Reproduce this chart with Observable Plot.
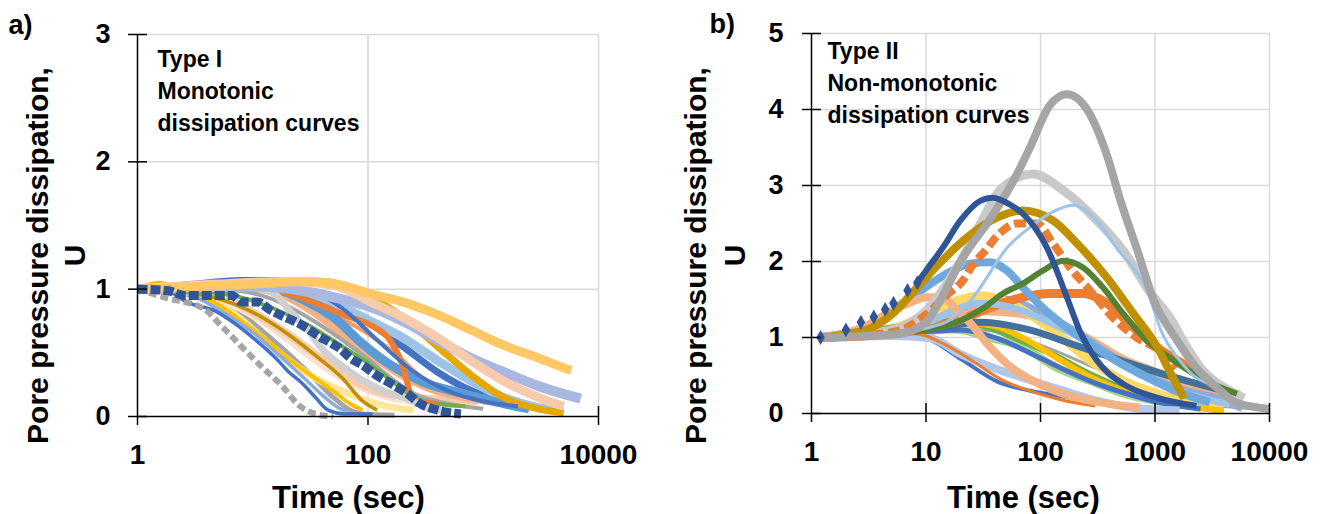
<!DOCTYPE html>
<html><head><meta charset="utf-8">
<script src="https://cdn.jsdelivr.net/npm/d3@7"></script>
<script src="https://cdn.jsdelivr.net/npm/@observablehq/plot@0.6"></script>
<style>
html,body{margin:0;padding:0;background:#fff;}
#wrap{position:relative;width:1322px;height:514px;overflow:hidden;background:#fff;}
#pa{position:absolute;left:0;top:0;}
#pb{position:absolute;left:660px;top:0;}
</style></head>
<body><div id="wrap"><div id="pa"></div><div id="pb"></div></div>
<script>
// ---------- tick values and texts ----------
const xTicksA = [1, 100, 10000];
const yTicksA = [0, 1, 2, 3];
const xTicksB = [1, 10, 100, 1000, 10000];
const yTicksB = [0, 1, 2, 3, 4, 5];
const xTitle = "Time (sec)";
const yTitle1 = "Pore pressure dissipation,";
const yTitle2 = "U";
const annoA = ["Type I", "Monotonic", "dissipation curves"];
const annoB = ["Type II", "Non-monotonic", "dissipation curves"];

// ---------- panel a) Type I series: [time (s), U] ----------
const a_grayLow = [[1,1],[3,0.95],[8,0.8],[15,0.6],[30,0.35],[50,0.15],[70,0.05],[90,0.02],[170,0.01]];
const a_lightPeach = [[1,1],[3,0.98],[8,0.85],[15,0.7],[25,0.55],[45,0.38],[80,0.25],[150,0.16],[300,0.12],[600,0.1]];
const a_paleYellow = [[1,1],[2,1.02],[4,0.93],[7,0.8],[12,0.62],[20,0.45],[35,0.3],[60,0.2],[100,0.12],[170,0.07],[250,0.05]];
const a_goldPlus = [[1,1],[1.5,1.05],[3,0.97],[5,0.88],[8,0.75],[14,0.58],[22,0.43],[35,0.3],[50,0.2],[70,0.1],[90,0.05]];
const a_paleBlueX = [[1,1],[2,1.0],[3.5,0.92],[6,0.8],[10,0.66],[17,0.48],[28,0.3],[40,0.17],[55,0.07],[70,0.03]];
const a_blueX = [[1,1],[1.5,1.02],[2.8,0.89],[4.7,0.83],[7,0.73],[10,0.62],[16.6,0.44],[20,0.36],[27,0.26],[35,0.15],[45,0.05],[63,0.02],[110,0.02]];
const a_grayDots = [[1,1],[1.8,0.93],[3.7,0.85],[5.5,0.7],[8.6,0.52],[12,0.39],[18,0.24],[25,0.09],[35,0.02],[50,0]];
const a_peach = [[1,1],[3,1.0],[6,0.93],[10,0.82],[20,0.65],[40,0.45],[70,0.3],[120,0.2],[250,0.15],[500,0.13],[900,0.12]];
const a_darkGold = [[1,1],[3,0.97],[7,0.88],[12,0.78],[20,0.65],[35,0.48],[60,0.3],[90,0.12],[120,0.05]];
const a_salmon = [[1,1],[5,1.03],[15,0.98],[30,0.85],[60,0.65],[100,0.5],[200,0.32],[400,0.2],[700,0.15],[1100,0.12]];
const a_orange2 = [[1,1],[10,1.0],[25,0.93],[50,0.8],[100,0.65],[180,0.48],[300,0.3],[500,0.2],[900,0.13]];
const a_blue = [[1,1],[10,1.03],[30,0.95],[60,0.85],[100,0.74],[200,0.55],[400,0.35],[800,0.2],[1500,0.12],[3000,0.07]];
const a_lightBlue = [[1,1],[10,1.02],[30,0.97],[60,0.86],[105,0.75],[200,0.62],[400,0.44],[780,0.28],[1500,0.15],[3000,0.07],[4000,0.05]];
const a_skyBlue = [[1,1],[10,1.02],[16,1.0],[30,0.9],[50,0.78],[90,0.57],[160,0.4],[300,0.27],[670,0.18],[1200,0.12],[2500,0.06]];
const a_gray = [[1,1],[5,1.0],[15,0.92],[30,0.78],[60,0.6],[100,0.45],[160,0.3],[250,0.18],[500,0.1],[1000,0.06]];
const a_green = [[1,1],[5,0.97],[15,0.85],[30,0.72],[60,0.55],[100,0.42],[160,0.28],[250,0.15],[400,0.1],[700,0.08]];
const a_orange = [[1,1],[10,1.02],[20,0.97],[40,0.87],[70,0.78],[105,0.72],[160,0.58],[200,0.4],[230,0.2],[260,0.12],[400,0.1]];
const a_gold = [[1,1],[10,1.05],[40,1.06],[100,0.95],[200,0.78],[400,0.55],[800,0.32],[1500,0.15],[3000,0.06],[5000,0.03]];
const a_blueTriangles = [[1,1],[3,1.05],[8,1.08],[16,1.08],[30,1.0],[60,0.85],[120,0.6],[250,0.35],[500,0.2],[1000,0.12],[2000,0.08]];
const a_lightGray = [[1,1],[5,1.03],[9,1.02],[15,0.97],[21,0.83],[30,0.68],[41,0.52],[61,0.39],[91,0.28],[136,0.2],[220,0.14],[300,0.08],[450,0.05]];
const a_periwinkle = [[1,1],[10,1.02],[30,0.98],[60,0.92],[105,0.86],[200,0.75],[400,0.6],[780,0.46],[1500,0.35],[3000,0.24],[7000,0.14]];
const a_pink = [[1,1],[5,1.04],[20,1.06],[50,1.03],[105,0.9],[200,0.78],[400,0.62],[780,0.44],[1500,0.28],[3000,0.15],[5000,0.08]];
const a_yellowTop = [[1,1],[10,1.04],[30,1.06],[60,1.03],[100,0.97],[200,0.9],[400,0.8],[780,0.68],[1500,0.56],[3000,0.46],[5800,0.36]];
const a_navyDiamonds = [[1,1],[1.8,0.99],[2.6,0.95],[6.6,0.95],[8,0.9],[11,0.9],[14,0.84],[18,0.79],[24,0.74],[30,0.69],[36,0.64],[47,0.58],[58,0.53],[70,0.46],[91,0.4],[120,0.32],[157,0.26],[220,0.18],[285,0.1],[400,0.05],[640,0.02]];

// ---------- panel b) Type II series: [time (s), U] ----------
const b_grayThin = [[1.2,1],[10,1.05],[30,1.1],[100,0.9],[300,0.6],[1000,0.3],[3000,0.12],[10000,0.05]];
const b_salmon2 = [[1.2,1],[5,1.1],[10,1.2],[28,1.36],[70,1.32],[139,1.18],[270,0.96],[530,0.7],[1040,0.53],[2000,0.34],[3900,0.21],[5200,0.13]];
const b_periwinkle = [[1.2,1],[5,1.1],[10,1.25],[20,1.4],[35,1.5],[51,1.49],[99,1.32],[190,1.09],[380,0.79],[740,0.53],[1440,0.34],[3900,0.17],[5800,0.08]];
const b_yellow = [[1.2,1],[3,1.05],[6,1.15],[10,1.3],[20,1.5],[30,1.55],[45,1.5],[70,1.36],[139,1.05],[270,0.7],[530,0.43],[1040,0.26],[2300,0.13],[3900,0.04]];
const b_greenLight = [[1.2,1],[5,1.08],[10,1.12],[20,1.1],[35,1.0],[70,0.87],[139,0.6],[270,0.43],[530,0.26],[1440,0.13],[3000,0.08]];
const b_green = [[1.2,1],[10,1.18],[20,1.22],[40,1.1],[70,0.95],[139,0.75],[270,0.52],[530,0.33],[1040,0.2],[2000,0.1]];
const b_gold2 = [[1.2,1],[10,1.1],[20,1.2],[40,1.15],[80,0.95],[150,0.7],[300,0.45],[600,0.27],[1200,0.15],[2500,0.07],[4000,0.04]];
const b_blue = [[1.2,1],[10,1.08],[20,1.1],[40,1.0],[80,0.8],[150,0.6],[300,0.4],[600,0.25],[1200,0.13],[2500,0.06]];
const b_blueLow = [[1.2,1],[5,1.03],[9.5,1.0],[20,0.72],[42,0.42],[81,0.3],[160,0.22],[310,0.15],[600,0.08],[900,0.02]];
const b_periwinkleLow = [[1.2,1],[5,1.02],[11,0.99],[20,0.78],[39,0.6],[70,0.47],[158,0.3],[310,0.17],[600,0.08],[1640,0.04]];
const b_orangeThin = [[1.2,1],[8,1.05],[15,0.9],[25,0.7],[45,0.45],[80,0.3],[150,0.18],[300,0.1]];
const b_steelBlue = [[1.2,1],[10,1.1],[30,1.2],[80,1.1],[200,0.9],[500,0.7],[1000,0.55],[2000,0.42],[4000,0.3],[5500,0.25]];
const b_orangeThick = [[1.2,1],[5,1.05],[10,1.12],[19,1.22],[36,1.39],[70,1.53],[120,1.58],[235,1.58],[380,1.45],[650,1.13],[1040,0.87],[2000,0.6],[3900,0.3],[5000,0.2]];
const b_lightBlue2 = [[1.2,1],[10,1.2],[30,1.45],[60,1.38],[120,1.2],[250,0.95],[500,0.65],[1000,0.42],[2000,0.25],[4500,0.12]];
const b_skyBlue = [[1.2,1],[3,1.15],[5,1.35],[7,1.5],[11,1.71],[17,1.88],[24,1.97],[36,1.99],[51,1.88],[70,1.66],[105,1.39],[170,1.13],[270,0.92],[450,0.7],[800,0.5],[1500,0.3],[3000,0.15]];
const b_salmonPeak = [[1.2,1],[3,1.15],[5,1.35],[7.3,1.46],[10,1.53],[14,1.52],[19,1.35],[24,1.2],[36,0.88],[54,0.62],[81,0.45],[158,0.26],[430,0.12],[740,0.08]];
const b_lightGray = [[1.2,1],[5,1.1],[10,1.35],[20,2.0],[30,2.5],[45,2.95],[85,3.15],[160,2.93],[310,2.54],[530,2.14],[900,1.6],[1350,1.26],[1900,0.87],[2600,0.57],[4500,0.3],[6000,0.2]];
const b_orangeDash = [[1.2,1],[3,1.03],[6,1.1],[10,1.3],[15,1.55],[21,1.75],[26,1.97],[32,2.12],[44,2.37],[62,2.5],[93,2.5],[128,2.24],[190,1.88],[270,1.62],[430,1.26],[690,1.0],[1160,0.8],[1540,0.6]];
const b_darkGreen = [[1.2,1],[5,1.05],[10,1.1],[20,1.22],[32,1.39],[47,1.58],[70,1.71],[105,1.88],[158,2.01],[235,1.92],[350,1.66],[530,1.31],[850,0.96],[1440,0.7],[2800,0.43],[5200,0.26]];
const b_gold = [[1.2,1],[3,1.1],[5,1.3],[8.4,1.66],[13,1.97],[23,2.32],[42,2.58],[70,2.67],[128,2.54],[220,2.2],[380,1.79],[650,1.31],[1040,0.88],[1400,0.5],[1800,0.2]];
const b_lightBlueThin = [[1.2,1],[5,1.05],[10,1.12],[19,1.3],[28,1.6],[51,2.18],[81,2.45],[120,2.63],[192,2.74],[310,2.54],[460,2.18],[850,1.62],[1160,1.05],[1640,0.7],[2300,0.47],[3000,0.39],[4000,0.3]];
const b_grayBig = [[1.2,1],[3,1.02],[6,1.05],[10,1.2],[14,1.55],[20,2.0],[36,2.55],[60,3.1],[81,3.5],[120,4.05],[170,4.2],[255,4.0],[380,3.4],[500,2.8],[700,2.15],[1000,1.45],[1500,1.0],[2300,0.6],[3500,0.34],[5000,0.15],[10000,0.06]];
const b_navy = [[1.2,1],[2,1.1],[2.7,1.2],[3.5,1.27],[4.4,1.37],[5.2,1.45],[6.9,1.62],[8.4,1.72],[10,1.88],[14,2.18],[20,2.54],[30,2.8],[38,2.84],[54,2.75],[70,2.63],[114,2.18],[170,1.53],[220,1.09],[310,0.7],[527,0.39],[1040,0.21],[2300,0.1]];

// ---------- styles: [series, colour, width, dash, marker-until-time] back to front ----------
const seriesA = [
  [a_grayLow, "#A5A5A5", 5], [a_lightPeach, "#FBE0CF", 9], [a_paleYellow, "#FFE699", 7],
  [a_goldPlus, "#FFC000", 4], [a_paleBlueX, "#8FAADC", 3.5], [a_blueX, "#4472C4", 3.5],
  [a_grayDots, "#A5A5A5", 6, "8,4"], [a_peach, "#F8CBAD", 8], [a_darkGold, "#BF9000", 3.5],
  [a_salmon, "#F4B183", 8], [a_orange2, "#F19C65", 4], [a_blue, "#4472C4", 7],
  [a_lightBlue, "#9DC3E6", 9], [a_skyBlue, "#5B9BD5", 9], [a_gray, "#A5A5A5", 4],
  [a_green, "#70AD47", 4], [a_orange, "#ED7D31", 6], [a_gold, "#E6A800", 7],
  [a_blueTriangles, "#4472C4", 4], [a_lightGray, "#D0D0D0", 7], [a_periwinkle, "#A9B8E0", 10],
  [a_pink, "#F8CBAD", 9], [a_yellowTop, "#FFC864", 9], [a_navyDiamonds, "#2F5597", 9, "10,3"]
];
const seriesB = [
  [b_grayThin, "#A5A5A5", 3], [b_salmon2, "#F4B183", 10], [b_periwinkle, "#8FAADC", 9],
  [b_yellow, "#FFD966", 9], [b_greenLight, "#A9D18E", 8], [b_green, "#70AD47", 6],
  [b_gold2, "#FFC000", 6], [b_blue, "#4472C4", 5], [b_blueLow, "#4472C4", 4],
  [b_periwinkleLow, "#B4C7E7", 8], [b_orangeThin, "#ED7D31", 3], [b_steelBlue, "#41719C", 7],
  [b_orangeThick, "#ED7D31", 9], [b_lightBlue2, "#9DC3E6", 7], [b_skyBlue, "#6FA8DC", 8],
  [b_salmonPeak, "#F4B183", 8], [b_lightGray, "#C9C9C9", 9], [b_orangeDash, "#ED7D31", 8, "12,5"],
  [b_darkGreen, "#548235", 6], [b_gold, "#BF9000", 8], [b_lightBlueThin, "#9DC3E6", 3],
  [b_grayBig, "#A5A5A5", 8], [b_navy, "#2F5597", 6, null, 9]
];

const FONT = "'Liberation Sans', Arial, sans-serif";

function panel(o) {
  const innerW = o.width - o.ml - o.mr;
  const innerH = o.height - o.mt - o.mb;
  const lines = o.series.flatMap(([data, color, w, dash, markUntil]) => {
    const opts = {x: d => d[0], y: d => d[1], stroke: color, strokeWidth: w,
      strokeDasharray: dash || undefined, curve: "monotone-x", strokeLinecap: "butt"};
    if (!markUntil) return [Plot.line(data, opts)];
    return [
      Plot.line(data.filter(d => d[0] >= markUntil - 1), opts),
      Plot.dot(data.filter(d => d[0] < markUntil), {x: d => d[0], y: d => d[1],
        symbol: "diamond", r: 4.5, fill: color, stroke: null})
    ];
  });
  const marks = [
    Plot.gridX(o.xTicks.slice(1), {stroke: "#d9d9d9", strokeOpacity: 1, strokeWidth: 1.5}),
    Plot.gridY(o.yTicks.slice(1), {stroke: "#d9d9d9", strokeOpacity: 1, strokeWidth: 1.5}),
    ...lines,
    Plot.ruleY([0], {stroke: "#000", strokeWidth: 1.5}),
    Plot.ruleX([o.xTicks[0]], {stroke: "#000", strokeWidth: 1.5}),
    Plot.axisY(o.yTicks, {tickSize: 9, tickPadding: o.yPad, tickFormat: d => String(d),
      fontSize: o.yFont, fontWeight: "bold", stroke: "#000", strokeWidth: 1.5, label: null}),
    Plot.tickY(o.yTicks, {y: d => d, insetRight: innerW - 10, stroke: "#000", strokeWidth: 1.5}),
    Plot.axisX(o.xTicks, {tickSize: 9, tickPadding: 19, tickFormat: d => String(d),
      fontSize: 28, fontWeight: "bold", stroke: "#000", strokeWidth: 1.5, label: null}),
    Plot.tickX(o.innerXTicks, {x: d => d, insetTop: innerH - 10, stroke: "#000", strokeWidth: 1.5}),
    Plot.text([o.panelLabel], {frameAnchor: "top-left", dx: o.plDx, dy: -1, textAnchor: "start",
      lineAnchor: "bottom", fontSize: 27, fontWeight: "bold"}),
    Plot.text([yTitle1], {frameAnchor: "left", rotate: -90, dx: o.yt1Dx, dy: 255 - (o.mt + innerH / 2),
      textAnchor: "middle", lineAnchor: "bottom", fontSize: 30, fontWeight: "bold"}),
    Plot.text([yTitle2], {frameAnchor: "left", rotate: -90, dx: o.yt2Dx, dy: 255 - (o.mt + innerH / 2),
      textAnchor: "middle", lineAnchor: "bottom", fontSize: 30, fontWeight: "bold"}),
    Plot.text([xTitle], {frameAnchor: "bottom", dx: o.xtDx, dy: 507 - (o.mt + innerH),
      textAnchor: "middle", lineAnchor: "bottom", fontSize: 31, fontWeight: "bold"}),
    Plot.text([o.anno.join("\n")], {frameAnchor: "top-left", dx: o.annDx, dy: o.annDy,
      textAnchor: "start", lineAnchor: "top", lineHeight: 32 / 23, fontSize: 23,
      fontWeight: "bold"})
  ];
  return Plot.plot({
    width: o.width, height: o.height,
    marginLeft: o.ml, marginRight: o.mr, marginTop: o.mt, marginBottom: o.mb,
    x: {type: "log", domain: [o.xTicks[0], o.xTicks[o.xTicks.length - 1]]},
    y: {domain: [0, o.yTicks[o.yTicks.length - 1]]},
    style: {fontFamily: FONT, color: "#000", background: "#fff", overflow: "visible"},
    marks
  });
}

document.getElementById("pa").append(panel({
  width: 660, height: 514, ml: 137, mr: 62, mt: 34, mb: 98,
  xTicks: xTicksA, yTicks: yTicksA, innerXTicks: [10000], series: seriesA,
  yPad: 18, yFont: 27, panelLabel: "a)", plDx: 8 - 137,
  yt1Dx: 47 - 137, yt2Dx: 84 - 137, xtDx: 348 - 367.5,
  anno: annoA, annDx: 20, annDy: 10
}));
document.getElementById("pb").append(panel({
  width: 662, height: 514, ml: 151, mr: 53, mt: 33, mb: 101,
  xTicks: xTicksB, yTicks: yTicksB, innerXTicks: xTicksB.slice(1), series: seriesB,
  yPad: 19, yFont: 27, panelLabel: "b)", plDx: 709 - 811,
  yt1Dx: 705 - 811, yt2Dx: 744 - 811, xtDx: 1023 - 1040,
  anno: annoB, annDx: 16, annDy: 3
}));
</script>
</body></html>
